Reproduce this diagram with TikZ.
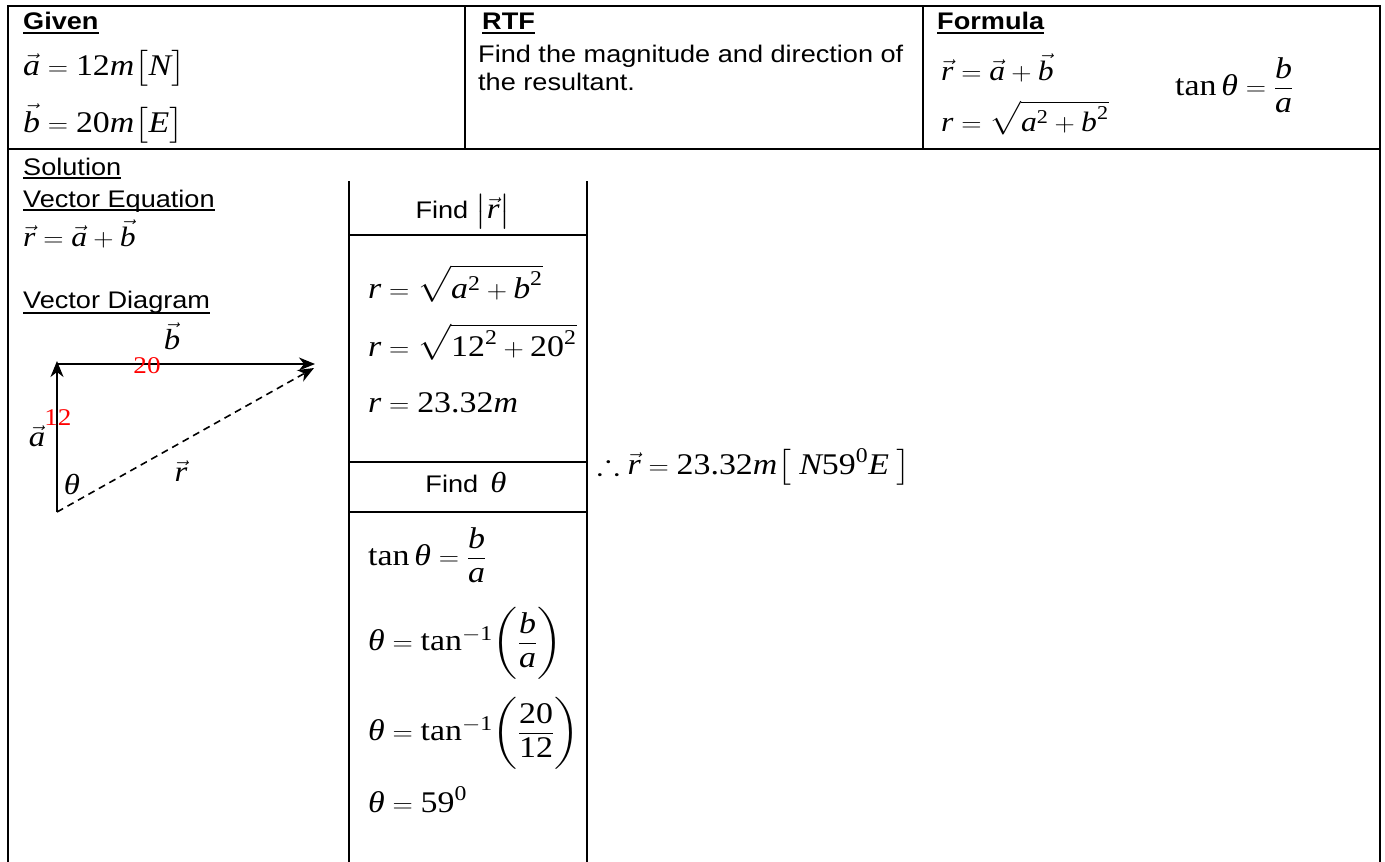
\documentclass[tikz,border=0pt]{standalone}
\usepackage{amsmath,amssymb}
\usepackage{fontspec}
\setmainfont{Liberation Serif}
\setsansfont{Liberation Sans}
\usepackage{graphicx}
\usetikzlibrary{arrows.meta}
\newcommand\hs[1]{\scalebox{1.13}[1]{#1}}
\newcommand\mi[1]{\text{\normalfont\itshape #1}}
\newcommand\md[1]{\text{\normalfont #1}}
\newcommand\vv[1]{\vec{\mi{#1}}}
\newcommand\tht{\mi{θ}}
\newcommand\tn{\md{tan}}
\begin{document}
\begin{tikzpicture}[x=1pt,y=-1pt,
  frame/.style={line width=2pt},
  txt/.style={font=\sffamily\fontsize{24}{28}\selectfont, inner sep=0pt, anchor=base west},
  hdr/.style={font=\sffamily\bfseries\fontsize{24}{28}\selectfont, inner sep=0pt, anchor=base west},
  mth/.style={font=\fontsize{28}{34}\selectfont, inner sep=0pt, anchor=base west},
  mthb/.style={font=\fontsize{30}{36}\selectfont, inner sep=0pt, anchor=base west},
  redlab/.style={font=\fontsize{24}{28}\selectfont, text=red, inner sep=0pt},
  vlab/.style={font=\fontsize{29}{34}\selectfont, inner sep=0pt},
  ulb/.style={line width=2.2pt},
  ul/.style={line width=1.6pt},
  vec/.style={line width=2pt, -{Stealth[length=16pt,width=13pt,inset=5pt]}},
  dvec/.style={line width=1.6pt, dash pattern=on 7pt off 5pt, -{Stealth[length=16pt,width=13pt,inset=5pt]}}
]
\useasboundingbox (0,0) rectangle (1385,862);
\fill[white] (0,0) rectangle (1385,862);
% frame
\draw[frame] (8,862) -- (8,6) -- (1380,6) -- (1380,862);
\draw[frame] (8,149) -- (1380,149);
\draw[frame] (465,6) -- (465,149);
\draw[frame] (923,6) -- (923,149);
% top row
\node[hdr] (given) at (23,30) {\hs{Given}};
\draw[ulb] ([yshift=-3pt]given.base west) -- ([yshift=-3pt]given.base east);
\node[mthb] (ga) at (23,75) {\hs{$\vv a = \md{12}\mi m\bigl[\mi N\bigr]$}};
\node[mthb] (gb) at (23,132) {\hs{$\vv b = \md{20}\mi m\bigl[\mi E\bigr]$}};
\node[hdr] (rtf) at (482,30) {\hs{RTF}};
\draw[ulb] ([yshift=-3pt]rtf.base west) -- ([yshift=-3pt]rtf.base east);
\node[txt] (rtf1) at (478,62) {\hs{Find the magnitude and direction of}};
\node[txt] (rtf2) at (478,90) {\hs{the resultant.}};
\node[hdr] (formula) at (937,30) {\hs{Formula}};
\draw[ulb] ([yshift=-3pt]formula.base west) -- ([yshift=-3pt]formula.base east);
\node[mth] (f1) at (941,80) {\hs{$\vv r=\vv a+\vv b$}};
\node[mth] (f2) at (941,131) {\hs{$\mi r=\sqrt{\mi a^{\md{2}}+\mi b^{\md{2}}}$}};
\node[mthb] (f3) at (1175,95) {\hs{$\tn\,\tht=\dfrac{\mi b}{\mi a}$}};
% solution
\node[txt] (sol) at (23,175) {\hs{Solution}};
\draw[ul] ([yshift=-3pt]sol.base west) -- ([yshift=-3pt]sol.base east);
\node[txt] (veq) at (23,207) {\hs{Vector Equation}};
\draw[ul] ([yshift=-3pt]veq.base west) -- ([yshift=-3pt]veq.base east);
\node[mth] (req) at (23,246) {\hs{$\vv r=\vv a+\vv b$}};
\node[txt] (vdg) at (23,308) {\hs{Vector Diagram}};
\draw[ul] ([yshift=-5pt]vdg.base west) -- ([yshift=-5pt]vdg.base east);
% vector diagram
\coordinate (O) at (57,512);
\coordinate (At) at (57,361);
\coordinate (Bs) at (56,364);
\coordinate (Be) at (315,364);
\coordinate (Re) at (314,368);
\draw[vec] (O) -- (At);
\draw[vec] (Bs) -- (Be);
\draw[dvec] (O) -- (Re);
\node[vlab] (lb) at (172,336) {\hs{$\vv b$}};
\node[redlab] (l20) at (147,366) {\hs{20}};
\node[redlab] (l12) at (58,418) {\hs{12}};
\node[vlab] (la) at (37,436) {\hs{$\vv a$}};
\node[vlab] (lt) at (72,484) {\hs{$\tht$}};
\node[vlab] (lr) at (181,471) {\hs{$\vv r$}};
% inner table
\draw[frame] (349,181) -- (349,862);
\draw[frame] (587,181) -- (587,862);
\draw[frame] (349,235) -- (587,235);
\draw[frame] (349,462) -- (587,462);
\draw[frame] (349,512) -- (587,512);
\node[txt, anchor=base] (findr) at (463,218) {\hs{Find {\fontsize{29}{34}\selectfont$\left|\vv r\right|$}}};
\node[txt, anchor=base] (findt) at (466,492) {\hs{Find {\fontsize{29}{34}\selectfont$\,\tht$}}};
\node[mthb] (m1) at (368,298) {\hs{$\mi r=\sqrt{\mi a^{\md{2}}+\mi b^{\md{2}}}$}};
\node[mthb] (m2) at (368,356) {\hs{$\mi r=\sqrt{\md{12}^{\md{2}}+\md{20}^{\md{2}}}$}};
\node[mthb] (m3) at (368,412) {\hs{$\mi r=\md{23.32}\mi m$}};
\node[mthb] (t1) at (368,565) {\hs{$\tn\,\tht=\dfrac{\mi b}{\mi a}$}};
\node[mthb] (t2) at (368,650) {\hs{$\tht=\tn^{-\md{1}}\Biggl(\dfrac{\mi b}{\mi a}\Biggr)$}};
\node[mthb] (t3) at (368,740) {\hs{$\tht=\tn^{-\md{1}}\Biggl(\dfrac{\md{20}}{\md{12}}\Biggr)$}};
\node[mthb] (t4) at (368,812) {\hs{$\tht=\md{59}^{\md{0}}$}};
\node[mthb] (res) at (597,474) {\hs{$\therefore\vv r=\md{23.32}\mi m\bigl[\;\mi N\md{59}^{\md{0}}\mi E\;\bigr]$}};
\end{tikzpicture}
\end{document}
